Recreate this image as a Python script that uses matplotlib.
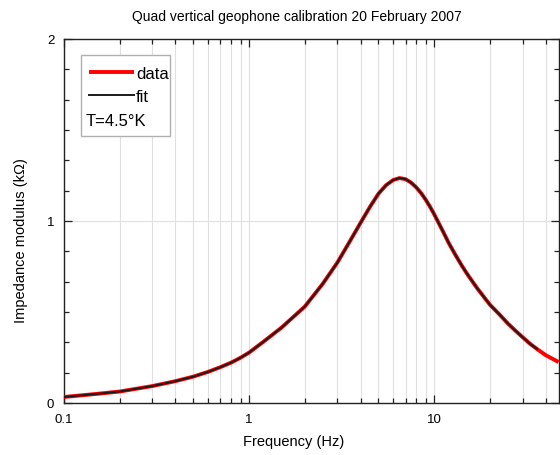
import matplotlib
matplotlib.use("Agg")
import matplotlib.pyplot as plt
from matplotlib.ticker import FixedLocator, NullFormatter, MultipleLocator, LogLocator
from matplotlib.patches import Rectangle

plt.rcParams['font.family'] = ['Liberation Sans', 'DejaVu Sans']

# data
freq_data = [0.1, 0.15, 0.2, 0.3, 0.4, 0.5, 0.6, 0.7, 0.8, 0.9, 1.0, 1.2, 1.5,
             2.0, 2.5, 3.0, 3.5, 4.0, 4.5, 5.0, 5.5, 6.0, 6.5, 7.0, 7.5, 8.0,
             8.5, 9.0, 9.5, 10, 11, 12, 13, 14, 15, 17, 20, 22.5, 25, 27.5,
             30, 33, 36, 40, 47]
z_data = [0.033, 0.050, 0.063, 0.093, 0.120, 0.145, 0.171, 0.197, 0.222, 0.249,
          0.277, 0.338, 0.415, 0.530, 0.655, 0.772, 0.888, 0.990, 1.078, 1.150,
          1.197, 1.225, 1.236, 1.230, 1.211, 1.185, 1.153, 1.117, 1.078, 1.037,
          0.955, 0.878, 0.815, 0.760, 0.712, 0.633, 0.540, 0.487, 0.437, 0.397,
          0.362, 0.325, 0.296, 0.263, 0.225]
freq_fit = freq_data[:-2]
z_fit = z_data[:-2]

legend_labels = ["data", "fit"]
annotation = "T=4.5°K"
title = "Quad vertical geophone calibration 20 February 2007"
xlabel = "Frequency (Hz)"
ylabel = "Impedance modulus (kΩ)"
xticks = [0.1, 1, 10]
xticklabels = ["0.1", "1", "10"]
yticks = [0, 1, 2]
yticklabels = ["0", "1", "2"]

fig = plt.figure(figsize=(5.6, 4.56), dpi=100)
ax = fig.add_axes([64/560, 1-404/456, 1-64/560 - 0.001, (404-40)/456])

ax.set_xscale('log')
ax.set_xlim(0.1, 47.5)
ax.set_ylim(0, 2)

l1, = ax.plot(freq_data, z_data, color='#ff0000', lw=2.8, solid_capstyle='butt',
              solid_joinstyle='round', zorder=3)
l2, = ax.plot(freq_fit, z_fit, color='#1a1a1a', lw=1.4, solid_joinstyle='round',
              zorder=4)

ax.xaxis.set_major_locator(FixedLocator(xticks))
ax.set_xticklabels(xticklabels)
ax.xaxis.set_minor_locator(LogLocator(base=10, subs=range(2, 10)))
ax.xaxis.set_minor_formatter(NullFormatter())
ax.yaxis.set_major_locator(FixedLocator(yticks))
ax.set_yticklabels(yticklabels)
ax.yaxis.set_minor_locator(MultipleLocator(1/6))

ax.tick_params(which='both', direction='in', top=True, right=True, labelsize=9.5,
               width=0.9, color='#222222')
ax.tick_params(which='major', length=6)
ax.tick_params(axis='x', which='major', pad=7)
ax.tick_params(axis='y', which='major', pad=7)
ax.tick_params(which='minor', length=3.5)

ax.grid(True, which='major', axis='both', color='#e0e0e0', lw=0.8)
ax.grid(True, which='minor', axis='x', color='#e0e0e0', lw=0.8)
ax.set_axisbelow(True)
for s in ax.spines.values():
    s.set_linewidth(1.0)
    s.set_color('#222222')

ax.set_xlabel(xlabel, fontsize=10.5)
ax.xaxis.set_label_coords(0.464, -0.085)
ax.set_ylabel(ylabel, fontsize=10.5)
ax.yaxis.set_label_coords(-0.072, 0.45)
fig.text(0.53, 1-17/456, title, ha='center', va='center', fontsize=10)

# legend
leg = ax.legend([l1, l2], legend_labels, loc='upper left',
                bbox_to_anchor=((82-64)/496, (404-60)/364), frameon=False,
                fontsize=12, handlelength=2.75, handletextpad=0.1,
                labelspacing=0.5, borderaxespad=0)
leg.set_zorder(7)
ax.text((86-64)/496, (404-122)/364, annotation, transform=ax.transAxes,
        fontsize=12, va='center', ha='left', zorder=7)
ax.add_patch(Rectangle(((81-64)/496, (404-137)/364), (170-81)/496, (137-56)/364,
                       transform=ax.transAxes, facecolor='white',
                       edgecolor='#b0b0b0', lw=1.0, zorder=5))

fig.savefig("out.png", dpi=100)
